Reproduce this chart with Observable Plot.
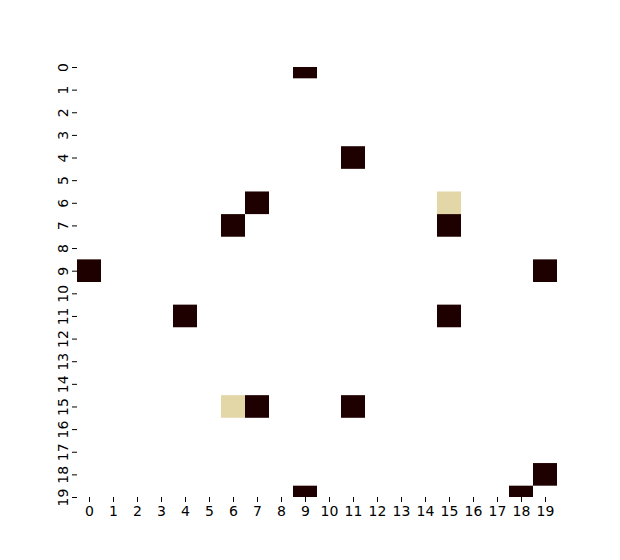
<!DOCTYPE html>
<html>
<head>
<meta charset="utf-8">
<script src="https://cdn.jsdelivr.net/npm/d3@7"></script>
<script src="https://cdn.jsdelivr.net/npm/@observablehq/plot@0.6"></script>
<style>
  html, body { margin: 0; padding: 0; background: #fff; }
</style>
</head>
<body>
<div id="chart"></div>
<script>
// Non-zero cells of the 20x20 matrix (all other cells are 0 / blank)
const rows   = [0, 4, 6, 6, 7, 7, 9, 9, 11, 11, 15, 15, 15, 18, 19, 19];
const cols   = [9, 11, 7, 15, 6, 15, 0, 19, 4, 15, 6, 7, 11, 19, 9, 18];
const values = [1, 1, 1, 0.2, 1, 1, 1, 1, 1, 1, 0.2, 1, 1, 1, 1, 1];
const tickLabels = d3.range(20);

const cells = rows.map((r, i) => ({row: r, col: cols[i], value: values[i]}));

const chart = Plot.plot({
  width: 620,
  height: 560,
  marginLeft: 77,
  marginRight: 63,
  marginTop: 67,
  marginBottom: 63,
  style: {fontFamily: "DejaVu Sans", fontSize: "14px", background: "#fff", color: "#000"},
  x: {type: "linear", domain: [0, 20]},
  y: {type: "linear", domain: [0.5, 19.5], reverse: true},
  color: {type: "linear", domain: [0.2, 1], range: ["#e3d7a8", "#1f0000"]},
  marks: [
    Plot.rect(cells, {
      x1: "col", x2: d => d.col + 1,
      y1: "row", y2: d => d.row + 1,
      fill: "value", clip: true
    }),
    Plot.axisX(tickLabels.map(d => d + 0.5), {
      tickFormat: d => String(d - 0.5),
      tickSize: 5, tickPadding: 4, label: null,
      fontSize: 14, stroke: "#000"
    }),
    Plot.axisY(tickLabels.map(d => d + 0.5), {
      tickFormat: d => String(d - 0.5),
      tickSize: 5, tickPadding: 5, tickRotate: -90, label: null,
      fontSize: 14, stroke: "#000"
    })
  ]
});
document.getElementById("chart").appendChild(chart);
</script>
</body>
</html>
